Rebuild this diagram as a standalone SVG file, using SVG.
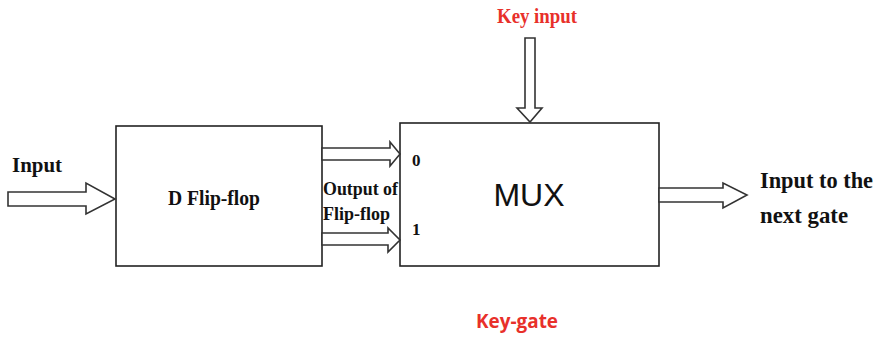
<svg xmlns="http://www.w3.org/2000/svg" width="881" height="337" viewBox="0 0 881 337">
<style>
.box{fill:#fff;stroke:#222;stroke-width:1.6}
.arr{fill:#fff;stroke:#333;stroke-width:1.6;stroke-linejoin:miter}
.t{font-family:"Liberation Serif",serif;font-weight:bold;fill:#111}
.r{fill:#e8302a}
</style>
<rect width="881" height="337" fill="#fff"/>
<g id="dff">
<rect class="box" x="116" y="126" width="206" height="140"/>
<text class="t" x="168" y="205" font-size="21" textLength="92" lengthAdjust="spacingAndGlyphs">D Flip-flop</text>
</g>
<g id="mux">
<rect class="box" x="400" y="123" width="259" height="143"/>
<text x="529" y="206" font-family="Liberation Sans,Arial,sans-serif" font-size="32" fill="#111" text-anchor="middle">MUX</text>
<text class="t" x="412" y="166" font-size="17">0</text>
<text class="t" x="412" y="235" font-size="17">1</text>
</g>
<g id="labels">
<text class="t" x="12" y="172" font-size="22" textLength="50" lengthAdjust="spacingAndGlyphs">Input</text>
<text class="t" x="323" y="195" font-size="18" textLength="75" lengthAdjust="spacingAndGlyphs">Output of</text>
<text class="t" x="323" y="220" font-size="18" textLength="67" lengthAdjust="spacingAndGlyphs">Flip-flop</text>
<text class="t r" x="497" y="23" font-size="21" textLength="80" lengthAdjust="spacingAndGlyphs">Key input</text>
<text class="t" x="760" y="188" font-size="23" textLength="113" lengthAdjust="spacingAndGlyphs">Input to the</text>
<text class="t" x="760" y="223" font-size="23" textLength="88" lengthAdjust="spacingAndGlyphs">next gate</text>
<text x="476" y="328" font-family="Open Sans,Liberation Sans,sans-serif" font-weight="bold" font-size="20" class="r" textLength="82" lengthAdjust="spacingAndGlyphs">Key-gate</text>
</g>
<g id="connectors">
<polygon class="arr" points="8,192 86,192 86,183 115,199 86,214 86,206 8,206"/>
<polygon class="arr" points="322,148 390,148 390,142 400,154 390,166 390,160 322,160"/>
<polygon class="arr" points="322,233 388,233 388,228 400,240 388,252 388,245 322,245"/>
<polygon class="arr" points="525,38 535,38 535,108 542,108 530,122 517,108 525,108"/>
<polygon class="arr" points="659,188 723,188 723,183 747,195 723,208 723,202 659,202"/>
</g>
</svg>
